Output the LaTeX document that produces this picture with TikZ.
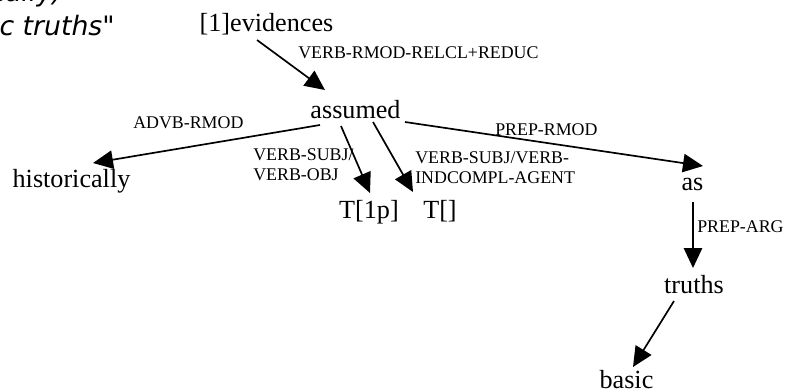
\documentclass[tikz,border=0pt]{standalone}
\usepackage{fontspec}
\setmainfont{Liberation Serif}
\newfontfamily\notefont{DejaVu Sans}
\usetikzlibrary{arrows.meta}

\begin{document}
\begin{tikzpicture}[x=0.025cm,y=-0.025cm,
  word/.style={inner sep=0pt,anchor=base,font=\fontsize{18.6}{22}\selectfont},
  rel/.style={inner sep=0pt,anchor=base west,align=left,font=\fontsize{12.7}{14.2}\selectfont},
  note/.style={inner sep=0pt,anchor=base east,font=\notefont\itshape\fontsize{19}{23}\selectfont},
  dep/.style={line width=1.2pt,-{Triangle[length=5mm,width=4.6mm]}}]
\useasboundingbox (0,0) rectangle (790,391);
\clip (0,0) rectangle (790,391);
% words
\node[note] (n1) at (63,1) {cally)};
\node[note] (n2) at (115,35) {c truths"};
\node[word] (ev) at (266.5,31) {[1]evidences};
\node[word] (assumed) at (355.5,118) {assumed};
\node[word] (hist) at (71.5,187) {historically};
\node[word] (tonep) at (369,218) {T[1p]};
\node[word] (tnull) at (440,218) {T[]};
\node[word] (asw) at (692.5,190) {as};
\node[word] (truths) at (694,293) {truths};
\node[word] (basic) at (626.5,388) {basic};
% relations (base = last line)
\node[rel] (r1) at (298,58) {VERB-RMOD-RELCL+REDUC};
\node[rel] (r2) at (133,128) {ADVB-RMOD};
\node[rel] (r3) at (253,180) {VERB-SUBJ/\\VERB-OBJ};
\node[rel] (r4) at (415,183) {VERB-SUBJ/VERB-\\INDCOMPL-AGENT};
\node[rel] (r5) at (495,135) {PREP-RMOD};
\node[rel] (r6) at (697,232) {PREP-ARG};
% arcs
\draw[dep] ([shift={(-9.5,9)}]ev.base) -- ([shift={(-30.5,-28)}]assumed.base);
\draw[dep] ([shift={(-35.5,7)}]assumed.base) -- ([shift={(21.5,-24)}]hist.base);
\draw[dep] ([shift={(-14.5,8)}]assumed.base) -- ([shift={(1,-25)}]tonep.base);
\draw[dep] ([shift={(17.5,4)}]assumed.base) -- ([shift={(-27,-26)}]tnull.base);
\draw[dep] ([shift={(49.5,4)}]assumed.base) -- ([shift={(10.5,-24)}]asw.base);
\draw[dep] ([shift={(0.5,12)}]asw.base) -- ([shift={(-1,-25)}]truths.base);
\draw[dep] ([shift={(-20,8)}]truths.base) -- ([shift={(6.5,-21)}]basic.base);
\end{tikzpicture}
\end{document}
